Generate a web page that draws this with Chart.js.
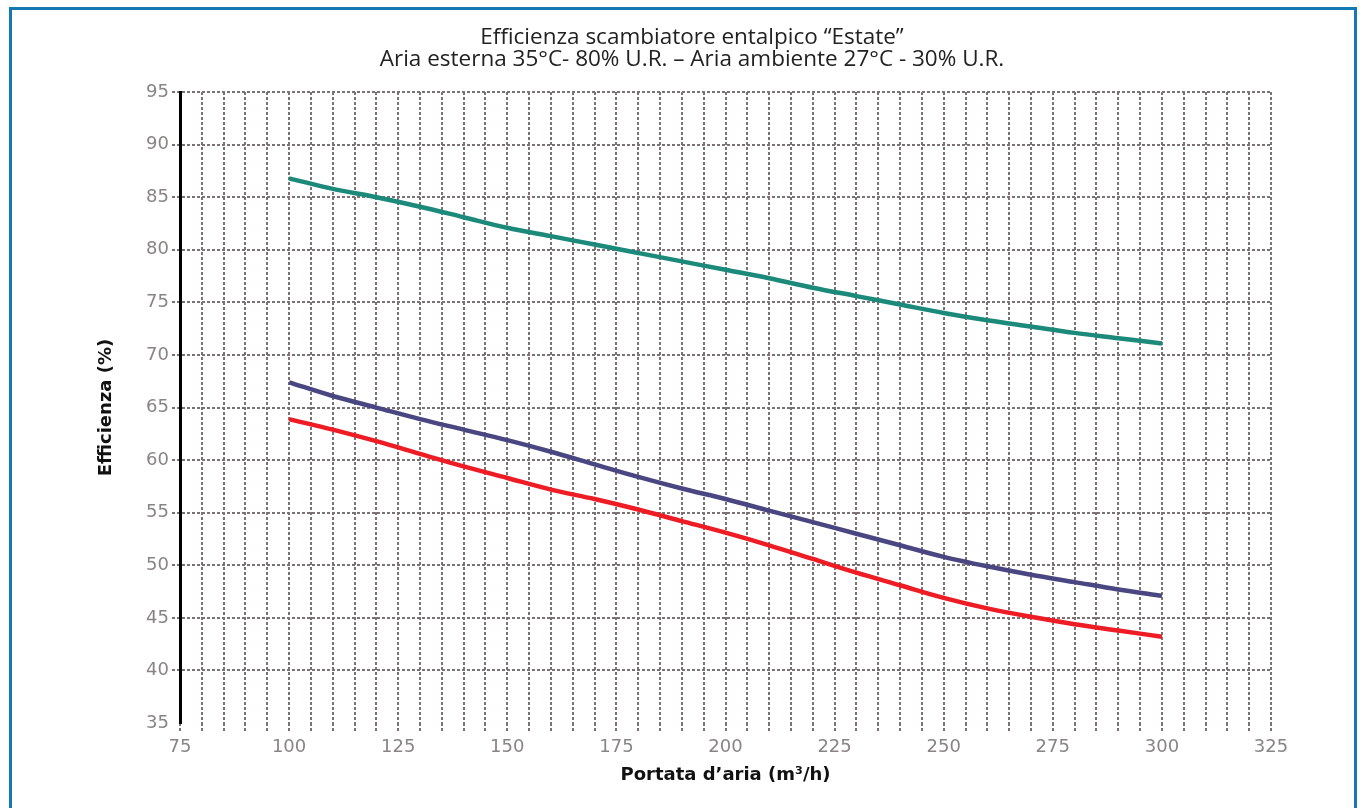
<!DOCTYPE html>
<html>
<head>
<meta charset="utf-8">
<script src="https://cdn.jsdelivr.net/npm/chart.js@4.4.1/dist/chart.umd.min.js"></script>
<style>
  html, body { margin: 0; padding: 0; background: #fff; }
  #frame { position: absolute; left: 9px; top: 7px; width: 1348px; height: 820px; border: 3px solid #1478b4; box-sizing: border-box; }
  #c { position: absolute; left: 0; top: 0; }
</style>
</head>
<body>
<div id="frame"></div>
<canvas id="c" width="1360" height="808"></canvas>
<script>
const titleLines = ['Efficienza scambiatore entalpico \u201cEstate\u201d', 'Aria esterna 35\u00b0C- 80% U.R. \u2013 Aria ambiente 27\u00b0C - 30% U.R.'];
const xTitle = 'Portata d\u2019aria (m\u00b3/h)';
const yTitle = 'Efficienza (%)';
const portata = [100, 110, 120, 130, 140, 150, 160, 170, 180, 190, 200, 210, 220, 230, 240, 250, 260, 270, 280, 290, 300];
const serieVerde = [86.8, 85.8, 85.0, 84.1, 83.1, 82.1, 81.3, 80.5, 79.7, 78.9, 78.1, 77.3, 76.4, 75.6, 74.8, 74.0, 73.3, 72.7, 72.1, 71.6, 71.1];
const serieViola = [67.4, 66.1, 65.0, 63.9, 62.9, 61.9, 60.8, 59.6, 58.4, 57.3, 56.3, 55.2, 54.1, 53.0, 51.9, 50.8, 49.9, 49.1, 48.4, 47.7, 47.1];
const serieRossa = [63.9, 62.9, 61.8, 60.6, 59.4, 58.3, 57.2, 56.3, 55.3, 54.2, 53.1, 51.9, 50.6, 49.3, 48.1, 46.9, 45.9, 45.1, 44.4, 43.8, 43.2];
const xMin = 75, xMax = 325, xLabelStep = 25, xGridStep = 5;
const yMin = 35, yMax = 95, yStep = 5;

const pts = arr => portata.map((x, i) => ({ x: x, y: arr[i] }));
const gridColor = '#7b7373';
const gridDash = [3, 2];
const tickFont = { family: 'DejaVu Sans', size: 18 };
const hideMin = c => (c.tick && c.tick.value === yMin ? 'rgba(0,0,0,0)' : gridColor);

function mkSet(data, color) {
  return {
    data: pts(data), borderColor: color, borderWidth: 4.5, pointRadius: 0,
    tension: 0.4, cubicInterpolationMode: 'monotone', fill: false
  };
}

new Chart(document.getElementById('c'), {
  type: 'line',
  data: {
    datasets: [
      mkSet(serieVerde, '#1b8a7a'),
      mkSet(serieViola, '#4a4682'),
      mkSet(serieRossa, '#ee1c24')
    ]
  },
  options: {
    responsive: false,
    animation: false,
    devicePixelRatio: 1,
    layout: { padding: { left: 113, right: 89, top: 0, bottom: 20 } },
    plugins: {
      legend: { display: false },
      tooltip: { enabled: false },
      title: {
        display: true, text: titleLines, color: '#222',
        font: { family: 'Open Sans', size: 22.5, weight: 'normal', lineHeight: 0.98 },
        padding: { top: 27, bottom: 21 }
      }
    },
    scales: {
      x: {
        type: 'linear', min: xMin, max: xMax,
        afterFit: s => { s.height = 65; },
        border: { display: false, dash: gridDash },
        grid: {
          color: gridColor, lineWidth: 2,
          drawTicks: true, tickLength: 8, tickColor: gridColor, tickWidth: 2, tickBorderDash: gridDash
        },
        ticks: {
          stepSize: xGridStep, autoSkip: false, maxRotation: 0, padding: 6,
          color: '#8a8484', font: tickFont,
          callback: v => (v % xLabelStep === 0 ? String(v) : '')
        },
        title: {
          display: true, text: xTitle, color: '#111',
          font: { family: 'DejaVu Sans', size: 18, weight: 'bold', lineHeight: 1.2 },
          padding: { top: 0, bottom: 2 }
        }
      },
      y: {
        type: 'linear', min: yMin, max: yMax,
        afterFit: s => { s.width = 67; },
        border: { display: true, color: '#000', width: 3, dash: gridDash },
        grid: {
          color: hideMin, lineWidth: 2,
          drawTicks: true, tickLength: 8, tickWidth: 2, tickBorderDash: gridDash,
          tickColor: hideMin
        },
        ticks: {
          stepSize: yStep, padding: 3, color: '#8a8484', font: tickFont
        },
        title: {
          display: true, text: yTitle, color: '#111',
          font: { family: 'DejaVu Sans', size: 18, weight: 'bold', lineHeight: 1.2 },
          padding: { top: -17, bottom: 0 }
        }
      }
    }
  }
});
</script>
</body>
</html>
